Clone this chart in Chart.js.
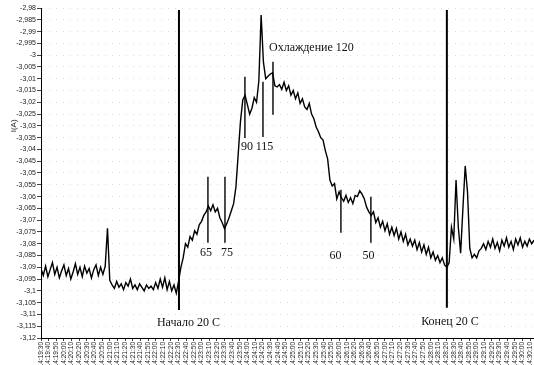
<!DOCTYPE html>
<html>
<head>
<meta charset="utf-8">
<script src="https://cdn.jsdelivr.net/npm/chart.js@4/dist/chart.umd.min.js"></script>
<style>
  html, body { margin: 0; padding: 0; background: #fff; }
  #wrap { width: 534px; height: 365px; position: relative; }
</style>
</head>
<body>
<div id="wrap"><canvas id="chart"></canvas></div>
<script>
// seconds between samples of the recorded signal
const sampleStep = 3;

const timeLabels = [
  '14:19:30', '14:19:40', '14:19:50', '14:20:00', '14:20:10', '14:20:20', '14:20:30', '14:20:40',
  '14:20:50', '14:21:00', '14:21:10', '14:21:20', '14:21:30', '14:21:40', '14:21:50', '14:22:00',
  '14:22:10', '14:22:20', '14:22:30', '14:22:40', '14:22:50', '14:23:00', '14:23:10', '14:23:20',
  '14:23:30', '14:23:40', '14:23:50', '14:24:00', '14:24:10', '14:24:20', '14:24:30', '14:24:40',
  '14:24:50', '14:25:00', '14:25:10', '14:25:20', '14:25:30', '14:25:40', '14:25:50', '14:26:00',
  '14:26:10', '14:26:20', '14:26:30', '14:26:40', '14:26:50', '14:27:00', '14:27:10', '14:27:20',
  '14:27:30', '14:27:40', '14:27:50', '14:28:00', '14:28:10', '14:28:20', '14:28:30', '14:28:40',
  '14:28:50', '14:29:00', '14:29:10', '14:29:20', '14:29:30', '14:29:40', '14:29:50', '14:30:00',
  '14:30:10'
];

const current = [
  // baseline before heating
  -3.0905, -3.0935, -3.0895, -3.0940, -3.0910, -3.0880, -3.0930, -3.0900, -3.0945, -3.0915,
  -3.0890, -3.0935, -3.0905, -3.0950, -3.0920, -3.0885, -3.0930, -3.0900, -3.0940, -3.0895,
  -3.0925, -3.0905, -3.0945, -3.0910, -3.0890, -3.0935, -3.0900, -3.0930, -3.0895,
  -3.0735,
  -3.0955, -3.0975, -3.0990, -3.0960, -3.0985, -3.0970, -3.0995, -3.0965, -3.0980, -3.0950,
  -3.0990, -3.0975, -3.0995, -3.0970, -3.0985, -3.1000, -3.0975, -3.0990, -3.0980, -3.0995,
  -3.0965, -3.0990, -3.0950, -3.0985, -3.0945, -3.0995, -3.0960, -3.1000, -3.0975, -3.1010,
  // heating
  -3.0960, -3.0900, -3.0860, -3.0800, -3.0815, -3.0770, -3.0785, -3.0745, -3.0760, -3.0720,
  -3.0705, -3.0680, -3.0665, -3.0640, -3.0660, -3.0635, -3.0665, -3.0650, -3.0690, -3.0710,
  -3.0735, -3.0715, -3.0690, -3.0660, -3.0630, -3.0560, -3.0420, -3.0280, -3.0190, -3.0170,
  -3.0210, -3.0250, -3.0225, -3.0180, -3.0200, -3.0110, -2.9830, -3.0030, -3.0100, -3.0090,
  -3.0080, -3.0075, -3.0130, -3.0135,
  // cooling
  -3.0125, -3.0145, -3.0115, -3.0150, -3.0130, -3.0170, -3.0150, -3.0185, -3.0160, -3.0205,
  -3.0185, -3.0220, -3.0230, -3.0205, -3.0250, -3.0270, -3.0305, -3.0325, -3.0350, -3.0360,
  -3.0405, -3.0440,
  -3.0530, -3.0555, -3.0545, -3.0610, -3.0580, -3.0605, -3.0620, -3.0595, -3.0625, -3.0605,
  -3.0630, -3.0595, -3.0600, -3.0575, -3.0590, -3.0610, -3.0645, -3.0665, -3.0680, -3.0665,
  -3.0710, -3.0690, -3.0730, -3.0705, -3.0745, -3.0715, -3.0760, -3.0730, -3.0765, -3.0735,
  -3.0780, -3.0750, -3.0790, -3.0760, -3.0805, -3.0780, -3.0810, -3.0785, -3.0825, -3.0795,
  -3.0835, -3.0805, -3.0845, -3.0815, -3.0860, -3.0835, -3.0870, -3.0850, -3.0880, -3.0860,
  -3.0890, -3.0900, -3.0880,
  // after the end mark
  -3.0730, -3.0780, -3.0530, -3.0730, -3.0840, -3.0650, -3.0470, -3.0580, -3.0820, -3.0860,
  -3.0845, -3.0860, -3.0830, -3.0820,
  -3.0800, -3.0825, -3.0790, -3.0815, -3.0780, -3.0820, -3.0795, -3.0830, -3.0785, -3.0810,
  -3.0775, -3.0815, -3.0790, -3.0825, -3.0780, -3.0805, -3.0775, -3.0815, -3.0790, -3.0810,
  -3.0780, -3.0800, -3.0785
];

// temperature marks: time (s), top and bottom of the tick (signal units)
const markerTimes = [218.4, 240.7, 266.8, 290.4, 303.5, 392.4, 431.6];
const markerTop = [-3.0516, -3.0516, -3.0092, -3.0113, -3.0028, -3.0571, -3.0601];
const markerBottom = [-3.0796, -3.0796, -3.0351, -3.0347, -3.0253, -3.0754, -3.0796];

// start / end of the 20 C stage
const stageTimes = [180.5, 531];
const stageTop = [-2.9808, -2.9808];
const stageBottom = [-3.1081, -3.1072];

const noteTexts = ['65', '75', '90', '115', 'Охлаждение 120', '60', '50', 'Начало 20 С', 'Конец 20 С'];
const noteTimes = [215.8, 243.3, 269.4, 292.3, 353.8, 385.2, 428.4, 192.9, 535];
const noteValues = [-3.0839, -3.0839, -3.0389, -3.0389, -2.9969, -3.0852, -3.0852, -3.1136, -3.1132];

const axisTitle = 'I(A)';
const axisTitleValue = -3.03;

const sans = '"Liberation Sans", Arial, sans-serif';

const marksPlugin = {
  id: 'marks',
  afterDatasetsDraw(chart) {
    const { ctx, scales: { x, y } } = chart;
    ctx.save();
    ctx.strokeStyle = '#000';
    const vline = (t, v1, v2, w) => {
      const px = x.getPixelForValue(t);
      ctx.lineWidth = w;
      ctx.beginPath();
      ctx.moveTo(px, y.getPixelForValue(v1));
      ctx.lineTo(px, y.getPixelForValue(v2));
      ctx.stroke();
    };
    markerTimes.forEach((t, i) => vline(t, markerTop[i], markerBottom[i], 1.4));
    stageTimes.forEach((t, i) => vline(t, stageTop[i], stageBottom[i], 2));

    ctx.fillStyle = '#111';
    ctx.font = '12px "Liberation Serif", "DejaVu Serif", serif';
    ctx.textAlign = 'center';
    ctx.textBaseline = 'middle';
    noteTexts.forEach((s, i) => {
      ctx.fillText(s, x.getPixelForValue(noteTimes[i]), y.getPixelForValue(noteValues[i]));
    });

    // y axis title, rotated
    ctx.translate(14, y.getPixelForValue(axisTitleValue));
    ctx.rotate(-Math.PI / 2);
    ctx.font = '8px ' + sans;
    ctx.fillStyle = '#222';
    ctx.fillText(axisTitle, 0, 0);
    ctx.restore();
  }
};

new Chart(document.getElementById('chart'), {
  type: 'line',
  data: {
    datasets: [{
      data: current.map((v, i) => ({ x: i * sampleStep, y: v })),
      borderColor: '#000',
      borderWidth: 1.4,
      pointRadius: 0,
      tension: 0,
    }]
  },
  options: {
    animation: false,
    responsive: true,
    maintainAspectRatio: false,
    layout: { padding: { top: 8, right: 0, bottom: 0, left: 0 } },
    plugins: { legend: { display: false }, tooltip: { enabled: false } },
    scales: {
      x: {
        type: 'linear',
        min: 0,
        max: 645,
        afterBuildTicks: s => { s.ticks = timeLabels.map((_, i) => ({ value: i * 10 })); },
        afterFit: s => { s.height = 27; s.paddingLeft = 0; s.paddingRight = 0; },
        ticks: {
          autoSkip: false,
          minRotation: 90,
          maxRotation: 90,
          padding: 1,
          color: '#222',
          font: { family: sans, size: 6.5 },
          callback: v => timeLabels[Math.round(v / 10)] || '',
        },
        grid: { drawOnChartArea: false, tickColor: '#444', tickLength: 3 },
        border: { color: '#000', width: 1 },
      },
      y: {
        min: -3.12,
        max: -2.98,
        afterFit: s => { s.width = 41; },
        ticks: {
          stepSize: 0.005,
          padding: 1,
          color: '#222',
          font: { family: sans, size: 7 },
          callback: v => String(+v.toFixed(3)).replace('.', ','),
        },
        grid: { color: '#dcdcdc', tickColor: '#444', tickLength: 4 },
        border: { color: '#000', width: 1, dash: [1, 6] },
      }
    }
  },
  plugins: [marksPlugin]
});
</script>
</body>
</html>
